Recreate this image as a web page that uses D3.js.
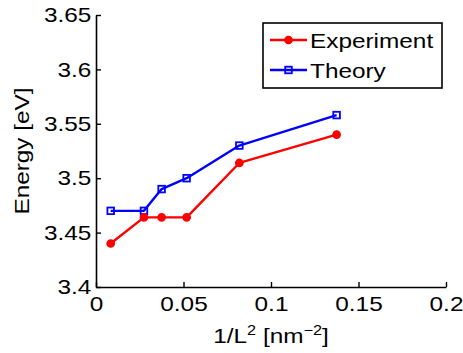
<!DOCTYPE html>
<html><head><meta charset="utf-8">
<script src="https://cdn.jsdelivr.net/npm/d3@7"></script>
<style>
body{margin:0;background:#fff;}
svg text{font-family:"Liberation Sans",Arial,sans-serif;font-size:21px;fill:#000;}
</style></head>
<body>
<svg id="c" width="463" height="353"></svg>
<script>
const xValues = [0.0084, 0.0274, 0.0375, 0.0518, 0.0819, 0.1375];
const experiment = [3.440, 3.464, 3.464, 3.464, 3.514, 3.540];
const theory = [3.470, 3.470, 3.490, 3.500, 3.530, 3.558];
const xTicks = [0, 0.05, 0.1, 0.15, 0.2];
const yTicks = [3.4, 3.45, 3.5, 3.55, 3.6, 3.65];
const seriesNames = ["Experiment", "Theory"];
const seriesColors = ["#ff0000", "#0000ff"];

const SX = 1.16;
const svg = d3.select("#c");
const x = d3.scaleLinear().domain([0, 0.2]).range([96, 446]);
const y = d3.scaleLinear().domain([3.4, 3.65]).range([287, 15]);

// axes
const ya = svg.append("g").attr("transform","translate(96,0)")
  .call(d3.axisLeft(y).tickValues(yTicks).tickFormat(d3.format("")).tickSizeInner(-5).tickSizeOuter(0).tickPadding(4));
const xa = svg.append("g").attr("transform","translate(0,287)")
  .call(d3.axisBottom(x).tickValues(xTicks).tickFormat(d3.format("")).tickSizeInner(-5).tickSizeOuter(0).tickPadding(9));
[ya, xa].forEach(a => {
  a.select(".domain").attr("stroke","#000").attr("stroke-width",1.6);
  a.selectAll(".tick line").attr("stroke","#000").attr("stroke-width",1.4);
  a.selectAll("text").attr("font-size",null).attr("font-family",null).attr("fill","#000")
    .attr("transform",`scale(${SX},1)`);
});

// labels
svg.append("text").attr("text-anchor","middle")
  .attr("transform",`translate(29,151) rotate(-90) scale(${SX},1)`).text("Energy [eV]");
const xl = svg.append("text").attr("text-anchor","middle")
  .attr("transform",`translate(271,343) scale(${SX},1)`);
xl.append("tspan").text("1/L");
xl.append("tspan").attr("font-size","14px").attr("dy",-8).text("2");
xl.append("tspan").attr("dy",8).text(" [nm");
xl.append("tspan").attr("font-size","14px").attr("dy",-8).text("\u22122");
xl.append("tspan").attr("dy",8).text("]");

const line = d3.line().x(d => x(d[0])).y(d => y(d[1]));
const seriesData = [experiment, theory].map(v => xValues.map((xv,i)=>[xv, v[i]]));

// theory then experiment
function drawMarker(g, type, color, cx, cy){
  if(type===0){
    g.append("circle").attr("cx",cx).attr("cy",cy).attr("r",3.6)
      .attr("fill",color).attr("stroke",color).attr("stroke-width",1.5);
  } else {
    g.append("rect").attr("x",cx-3.3).attr("y",cy-3.3).attr("width",6.6).attr("height",6.6)
      .attr("fill","none").attr("stroke",color).attr("stroke-width",1.8);
  }
}
[1,0].forEach(s => {
  const g = svg.append("g");
  g.append("path").datum(seriesData[s]).attr("d",line).attr("fill","none")
    .attr("stroke",seriesColors[s]).attr("stroke-width",2.4).attr("stroke-linejoin","round");
  seriesData[s].forEach(d => drawMarker(g, s, seriesColors[s], x(d[0]), y(d[1])));
});

// legend
const lg = svg.append("g");
lg.append("rect").attr("x",263).attr("y",23).attr("width",179).attr("height",65)
  .attr("fill","#fff").attr("stroke","#000").attr("stroke-width",1.6);
seriesNames.forEach((n,i) => {
  const cy = 40 + i*30;
  lg.append("line").attr("x1",270).attr("x2",307).attr("y1",cy).attr("y2",cy)
    .attr("stroke",seriesColors[i]).attr("stroke-width",2.4);
  drawMarker(lg, i, seriesColors[i], 288.5, cy);
  lg.append("text").attr("transform",`translate(310,${cy+8}) scale(${SX},1)`).text(n);
});
</script>
</body></html>
